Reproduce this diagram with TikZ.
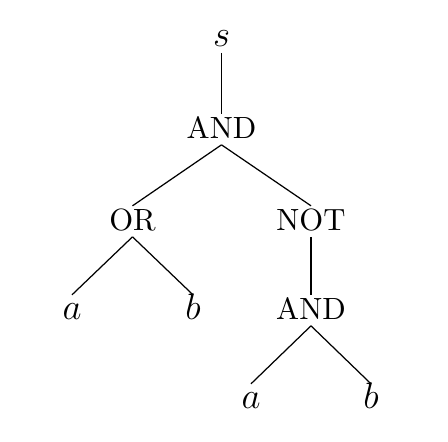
\documentclass[tikz,border=0pt]{standalone}
\usetikzlibrary{positioning}
\begin{document}
\begin{tikzpicture}[x=0.3257pt,y=-0.3257pt,
  tn/.style={anchor=base,inner sep=1pt,text height=7pt,text depth=0.7pt},
  var/.style={tn,font=\fontsize{12.5}{15}\selectfont},
  edge/.style={line width=0.4pt}]
\useasboundingbox (0,0) rectangle (448,442);
\node[var] (s)    at (221.5,47)  {$s$};
\node[tn]  (and1) at (221.5,139) {AND};
\node[tn]  (or)   at (132.5,231) {OR};
\node[tn]  (not)  at (311,231)   {NOT};
\node[var] (a1)   at (72,320)    {$a$};
\node[var] (b1)   at (193,320)   {$b$};
\node[tn]  (and2) at (311,320)   {AND};
\node[var] (a2)   at (251,409)   {$a$};
\node[var] (b2)   at (371,409)   {$b$};
\draw[edge] (s.south) -- (and1.north);
\draw[edge] (and1.south) -- (or.north);
\draw[edge] (and1.south) -- (not.north);
\draw[edge] (or.south) -- (a1.north);
\draw[edge] (or.south) -- (b1.north);
\draw[edge] (not.south) -- (and2.north);
\draw[edge] (and2.south) -- (a2.north);
\draw[edge] (and2.south) -- (b2.north);
\end{tikzpicture}
\end{document}
